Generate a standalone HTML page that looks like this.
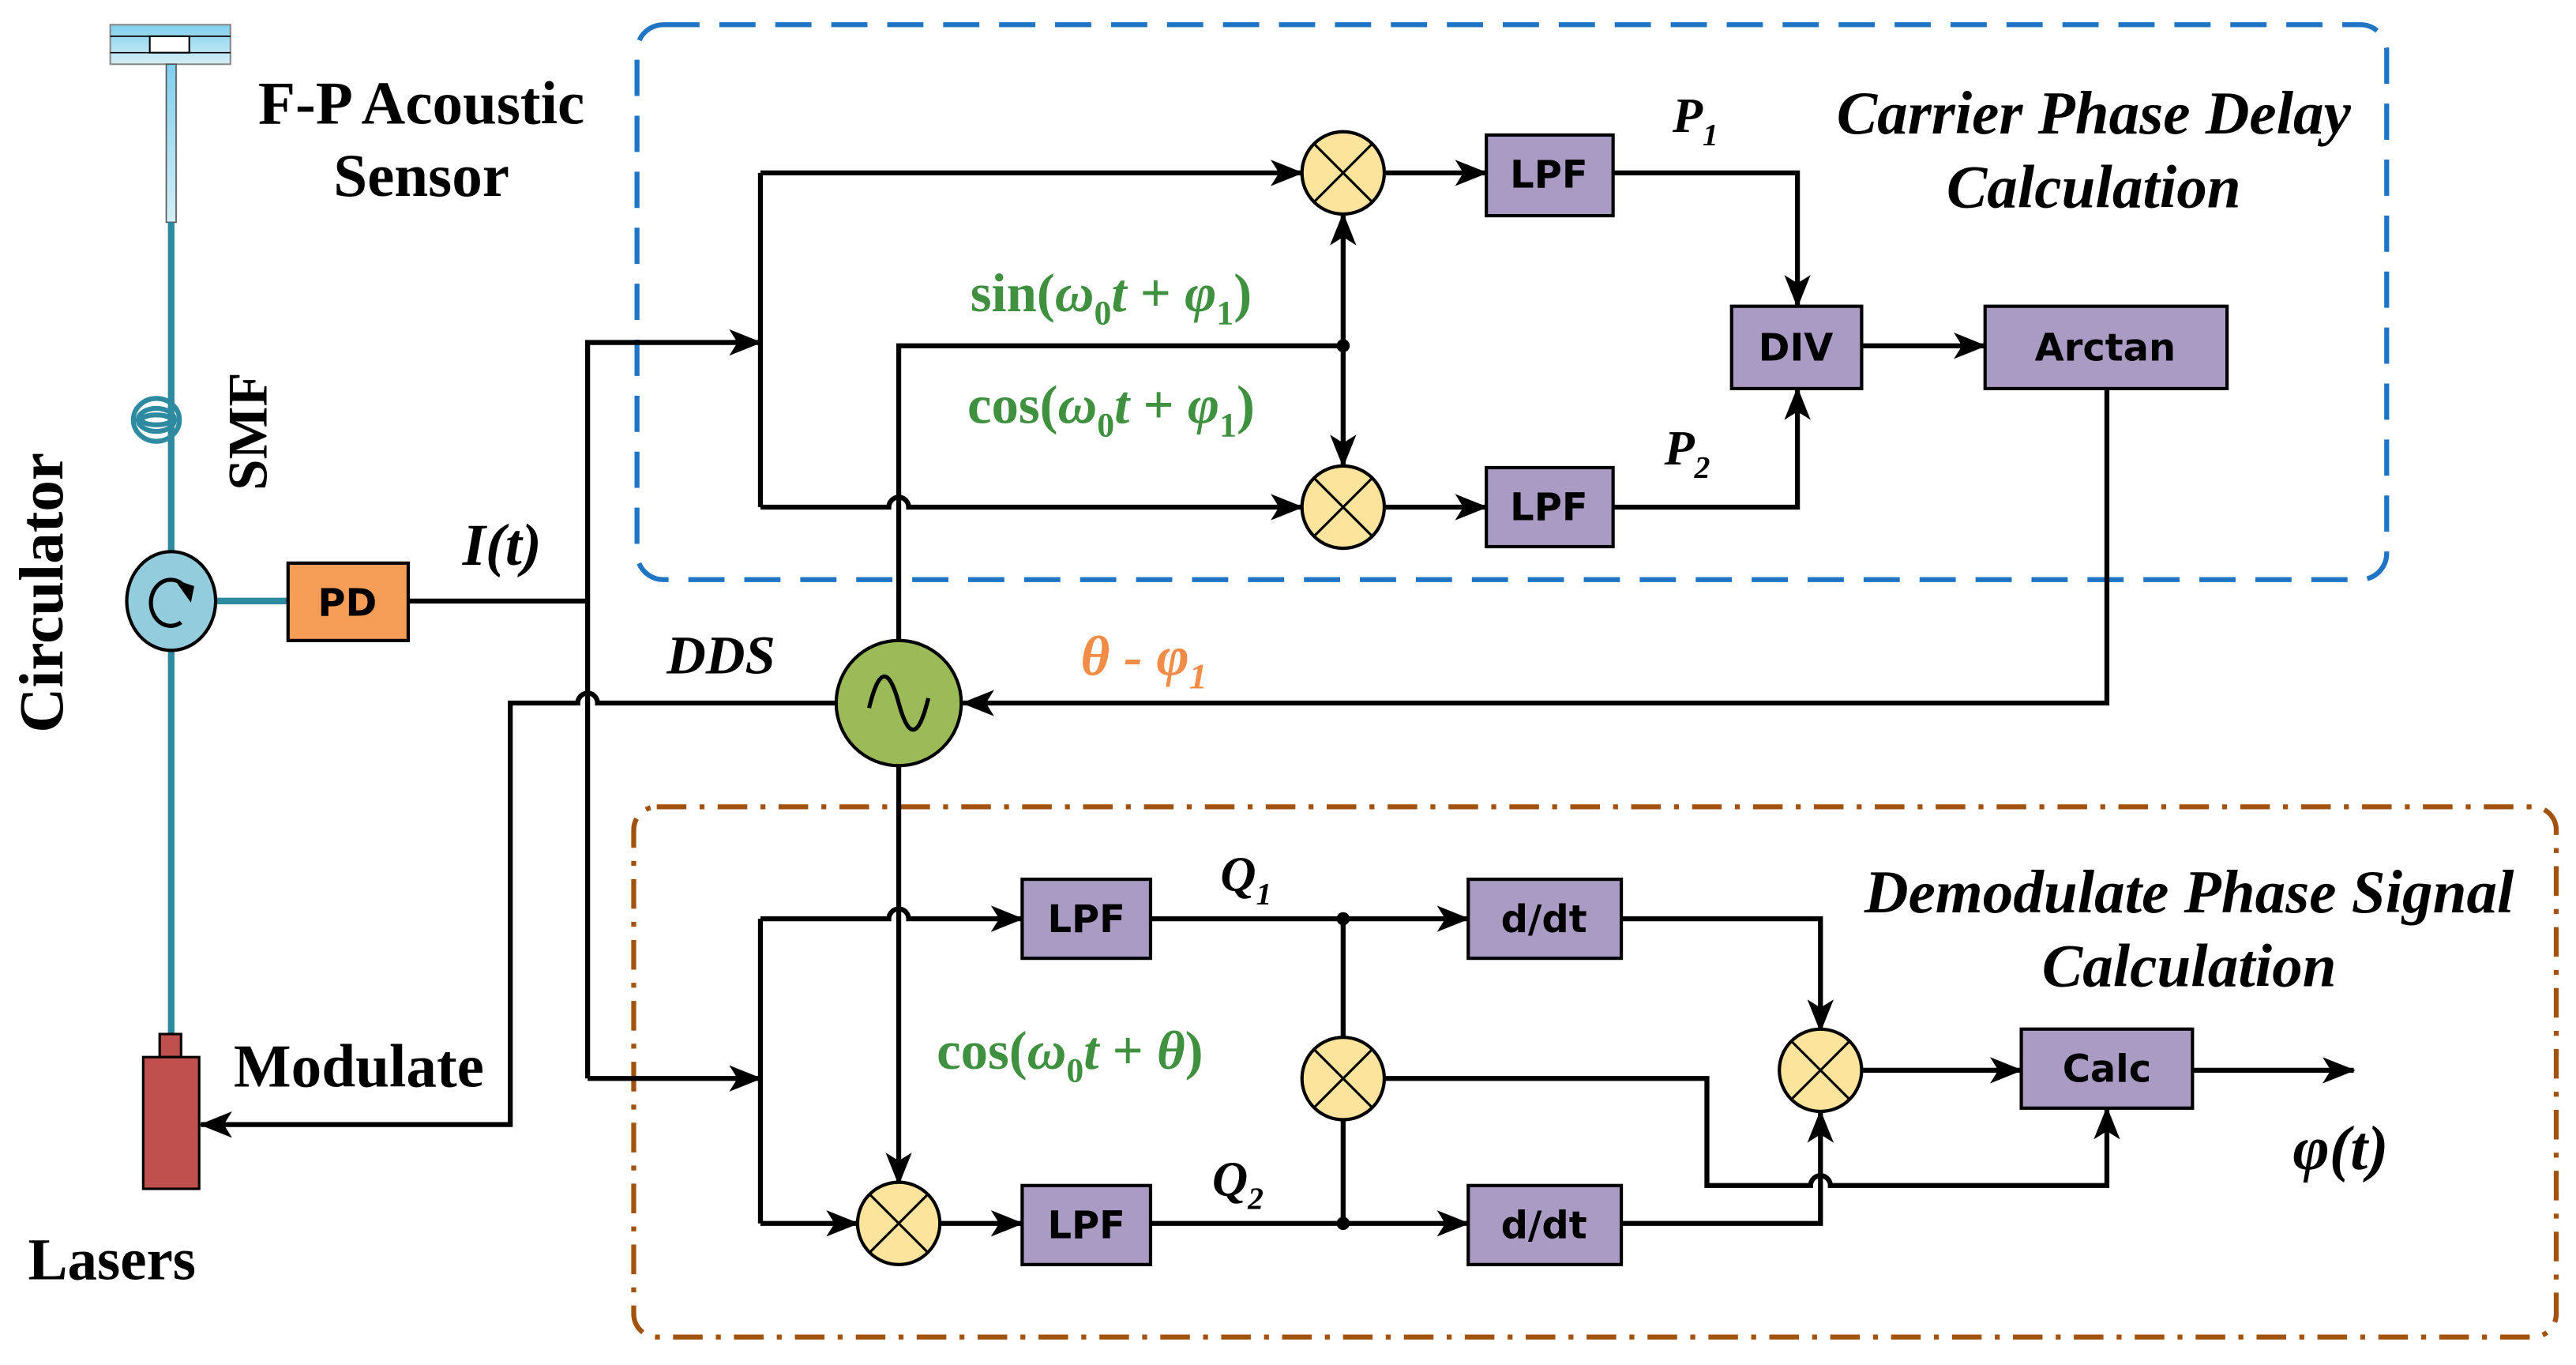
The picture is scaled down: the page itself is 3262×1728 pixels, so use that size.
<!DOCTYPE html>
<html><head><style>html,body{margin:0;padding:0;background:#fff}svg{display:block}</style></head>
<body>
<svg width="3262" height="1728" viewBox="0 0 1565 829" preserveAspectRatio="none" xmlns="http://www.w3.org/2000/svg">
<defs>
<marker id="a" markerWidth="20" markerHeight="16" refX="19" refY="8" orient="auto" markerUnits="userSpaceOnUse" viewBox="0 0 20 16"><path d="M0,0 L20,8 L0,16 L5,8 Z" fill="#000"/></marker>
<linearGradient id="g" x1="0" y1="0" x2="0" y2="1"><stop offset="0" stop-color="#7fd0ec"/><stop offset="1" stop-color="#d4eef7"/></linearGradient>
</defs>
<style>
.l{stroke:#000;stroke-width:3;fill:none}
.lm{stroke:#000;stroke-width:3;fill:none;marker-end:url(#a)}
.bx{fill:#a99bc4;stroke:#000;stroke-width:2}
.bt{font-family:"DejaVu Sans",sans-serif;font-weight:bold;font-size:23px;text-anchor:middle}
.mu{fill:#fde49c;stroke:#000;stroke-width:2}
.tt{font-family:"Liberation Serif",serif;font-weight:bold;text-anchor:middle}
.gr{font-family:"Liberation Serif",serif;font-weight:bold;font-size:33px;fill:#3f9140;text-anchor:middle}
</style>
<rect x="387" y="15" width="1063" height="337" rx="16" fill="none" stroke="#1f74c4" stroke-width="3" stroke-dasharray="22,12"/>
<rect x="385" y="490" width="1168" height="322" rx="14" fill="none" stroke="#a2520f" stroke-width="3" stroke-dasharray="18,8,3,8"/>
<rect x="67" y="15" width="73" height="24" fill="url(#g)" stroke="#888" stroke-width="1"/>
<rect x="91" y="22" width="24" height="10" fill="#fff" stroke="#000" stroke-width="1"/>
<line x1="67" y1="22" x2="140" y2="22" stroke="#000" stroke-width="0.8"/><line x1="67" y1="32" x2="140" y2="32" stroke="#000" stroke-width="0.8"/>
<rect x="101" y="39" width="6" height="96" fill="url(#g)" stroke="#555" stroke-width="0.8"/>
<line x1="104" y1="135" x2="104" y2="630" stroke="#2e8aa0" stroke-width="4"/>
<g fill="none" stroke="#2e8aa0" stroke-width="3"><ellipse cx="95" cy="255" rx="14" ry="13"/><ellipse cx="95" cy="255" rx="11" ry="7"/><ellipse cx="95" cy="255" rx="9" ry="3"/></g>
<line x1="130" y1="365" x2="175" y2="365" stroke="#2e8aa0" stroke-width="4"/>
<ellipse cx="104" cy="365" rx="27" ry="30" fill="#93cddd" stroke="#000" stroke-width="2"/>
<path d="M112,356 A12,14 0 1 0 110,378" fill="none" stroke="#000" stroke-width="2.5"/><path d="M106,352 L118,356 L116,366 Z" fill="#000"/>
<rect x="175" y="342" width="73" height="47" fill="#f59d56" stroke="#000" stroke-width="2"/>
<text x="211" y="374" class="bt">PD</text>
<rect x="97" y="628" width="13" height="14" fill="#c0504d" stroke="#000" stroke-width="1.5"/>
<rect x="87" y="642" width="34" height="80" fill="#c0504d" stroke="#000" stroke-width="1.5"/>
<text x="256" y="75" class="tt" font-size="37">F-P Acoustic</text>
<text x="256" y="119" class="tt" font-size="37">Sensor</text>
<text transform="translate(162,262) rotate(-90)" class="tt" font-size="34">SMF</text>
<text x="0" y="0" transform="translate(38,360) rotate(-90)" class="tt" font-size="38">Circulator</text>
<text x="68" y="777" class="tt" font-size="36">Lasers</text>
<text x="218" y="660" class="tt" font-size="37">Modulate</text>
<text x="305" y="343" class="tt" font-size="36" font-style="italic">I(t)</text>
<text x="438" y="409" class="tt" font-size="33" font-style="italic">DDS</text>
<path class="l" d="M248,365 H357"/>
<path class="lm" d="M357,655 V208 H462"/>
<path class="lm" d="M357,655 H462"/>
<path class="lm" d="M508,427 H363 A6,6 0 0 0 351,427 H310 V683 H122"/>
<circle cx="546" cy="427" r="38" fill="#9bbb59" stroke="#000" stroke-width="2"/>
<path d="M528,430 C534,405 540,405 546,427 C552,449 558,449 564,424" fill="none" stroke="#000" stroke-width="2.5"/>
<path class="lm" d="M1280,237 V427 H585"/>
<text x="695" y="410" font-family="Liberation Serif,serif" font-weight="bold" font-style="italic" font-size="34" fill="#f28c46" text-anchor="middle">θ - φ<tspan font-size="22" dy="8">1</tspan></text>
<path class="l" d="M462,105 V308"/>
<path class="lm" d="M462,105 H791"/>
<path class="lm" d="M462,308 H540 A6,6 0 0 1 552,308 H791"/>
<path class="l" d="M546,389 V210 H816"/>
<path class="lm" d="M816,210 V130"/>
<path class="lm" d="M816,210 V283"/>
<circle cx="816" cy="210" r="4"/>
<path class="lm" d="M842,105 H903"/><path class="lm" d="M842,308 H903"/>
<path class="lm" d="M980,105 H1092 V186"/><path class="lm" d="M980,308 H1092 V236"/>
<path class="lm" d="M1131,210 H1206"/>
<g class="mu"><circle cx="816" cy="105" r="25"/><circle cx="816" cy="308" r="25"/></g>
<path d="M798,87 L834,123 M834,87 L798,123 M798,290 L834,326 M834,290 L798,326" stroke="#000" stroke-width="1.5"/>
<rect x="903" y="82" width="77" height="49" class="bx"/><text x="941" y="114" class="bt">LPF</text>
<rect x="903" y="284" width="77" height="48" class="bx"/><text x="941" y="316" class="bt">LPF</text>
<rect x="1052" y="186" width="79" height="50" class="bx"/><text x="1091" y="219" class="bt">DIV</text>
<rect x="1206" y="186" width="147" height="50" class="bx"/><text x="1279" y="219" class="bt">Arctan</text>
<text x="675" y="189" class="gr">sin(<tspan font-style="italic">ω</tspan><tspan font-size="21" dy="8">0</tspan><tspan dy="-8" font-style="italic">t</tspan> + <tspan font-style="italic">φ</tspan><tspan font-size="21" dy="8">1</tspan><tspan dy="-8">)</tspan></text>
<text x="675" y="257" class="gr">cos(<tspan font-style="italic">ω</tspan><tspan font-size="21" dy="8">0</tspan><tspan dy="-8" font-style="italic">t</tspan> + <tspan font-style="italic">φ</tspan><tspan font-size="21" dy="8">1</tspan><tspan dy="-8">)</tspan></text>
<text x="1030" y="80" class="tt" font-size="30" font-style="italic">P<tspan font-size="19" dy="8">1</tspan></text>
<text x="1025" y="282" class="tt" font-size="30" font-style="italic">P<tspan font-size="19" dy="8">2</tspan></text>
<text x="1272" y="81" class="tt" font-size="37" font-style="italic">Carrier Phase Delay</text>
<text x="1272" y="126" class="tt" font-size="37" font-style="italic">Calculation</text>
<path class="lm" d="M546,465 V719"/>
<path class="l" d="M462,558 V743"/>
<path class="lm" d="M462,558 H540 A6,6 0 0 1 552,558 H621"/>
<path class="lm" d="M462,743 H521"/>
<path class="lm" d="M570,743 H621"/>
<path class="lm" d="M699,558 H892"/><path class="lm" d="M699,743 H892"/>
<path class="l" d="M816,558 V743"/>
<circle cx="816" cy="558" r="4"/><circle cx="816" cy="743" r="4"/>
<path class="lm" d="M985,558 H1106 V626"/>
<path class="lm" d="M985,743 H1106 V675"/>
<path class="lm" d="M840,655 H1037 V720 H1100 A6,6 0 0 1 1112,720 H1280 V673"/>
<path class="lm" d="M1130,650 H1228"/>
<path class="lm" d="M1332,650 H1430"/>
<g class="mu"><circle cx="546" cy="743" r="25"/><circle cx="816" cy="655" r="25"/><circle cx="1106" cy="650" r="25"/></g>
<path d="M528,725 L564,761 M564,725 L528,761 M798,637 L834,673 M834,637 L798,673 M1088,632 L1124,668 M1124,632 L1088,668" stroke="#000" stroke-width="1.5"/>
<rect x="621" y="534" width="78" height="48" class="bx"/><text x="660" y="566" class="bt">LPF</text>
<rect x="621" y="720" width="78" height="48" class="bx"/><text x="660" y="752" class="bt">LPF</text>
<rect x="892" y="534" width="93" height="48" class="bx"/><text x="938" y="566" class="bt">d/dt</text>
<rect x="892" y="720" width="93" height="48" class="bx"/><text x="938" y="752" class="bt">d/dt</text>
<rect x="1228" y="625" width="104" height="48" class="bx"/><text x="1280" y="657" class="bt">Calc</text>
<text x="650" y="649" class="gr">cos(<tspan font-style="italic">ω</tspan><tspan font-size="21" dy="8">0</tspan><tspan dy="-8" font-style="italic">t</tspan> + <tspan font-style="italic">θ</tspan>)</text>
<text x="757" y="541" class="tt" font-size="30" font-style="italic">Q<tspan font-size="19" dy="8">1</tspan></text>
<text x="752" y="726" class="tt" font-size="30" font-style="italic">Q<tspan font-size="19" dy="8">2</tspan></text>
<text x="1422" y="710" class="tt" font-size="38" font-style="italic">φ(t)</text>
<text x="1330" y="554" class="tt" font-size="37" font-style="italic">Demodulate Phase Signal</text>
<text x="1330" y="599" class="tt" font-size="37" font-style="italic">Calculation</text>
</svg>
</body></html>
